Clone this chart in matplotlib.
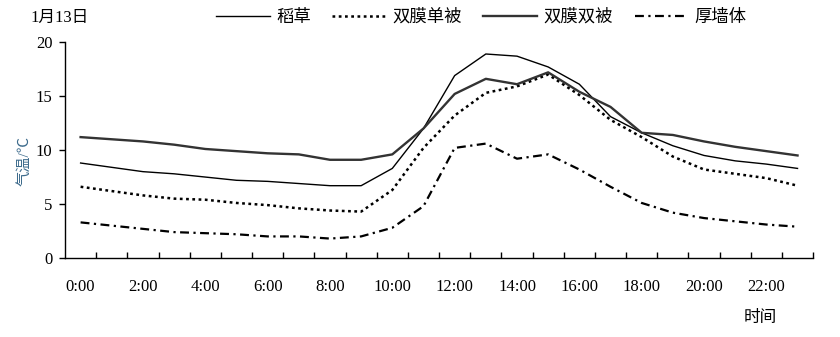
import matplotlib
matplotlib.use('Agg')
import matplotlib.pyplot as plt
import numpy as np

plt.rcParams['font.family'] = ['Liberation Serif', 'Noto Sans CJK SC']

# hourly greenhouse air temperature, 13 Jan
hours = ['%d:00' % h for h in range(24)]
daocao = [8.8, 8.4, 8.0, 7.8, 7.5, 7.2, 7.1, 6.9, 6.7, 6.7, 8.3, 12.0,
          16.9, 18.9, 18.7, 17.7, 16.1, 13.1, 11.6, 10.4, 9.5, 9.0, 8.7, 8.3]
shuangmo_danbei = [6.6, 6.2, 5.8, 5.5, 5.4, 5.1, 4.9, 4.6, 4.4, 4.3, 6.3, 10.2,
                   13.2, 15.3, 15.9, 17.0, 15.1, 12.8, 11.2, 9.4, 8.2, 7.8, 7.4, 6.7]
shuangmo_shuangbei = [11.2, 11.0, 10.8, 10.5, 10.1, 9.9, 9.7, 9.6, 9.1, 9.1, 9.6, 12.0,
                      15.2, 16.6, 16.1, 17.2, 15.4, 14.0, 11.6, 11.4, 10.8, 10.3, 9.9, 9.5]
houqiangti = [3.3, 3.0, 2.7, 2.4, 2.3, 2.2, 2.0, 2.0, 1.8, 2.0, 2.8, 4.8,
              10.2, 10.6, 9.2, 9.6, 8.2, 6.6, 5.1, 4.2, 3.7, 3.4, 3.1, 2.9]
names = ['稻草', '双膜单被', '双膜双被', '厚墙体']

x = np.arange(len(hours))

fig = plt.figure(figsize=(8.4, 3.37), dpi=100)
ax = fig.add_axes([0.0774, 0.2344, 0.8906, 0.6406])

ax.plot(x, daocao, color='black', lw=1.0, label=names[0])
ax.plot(x, shuangmo_danbei, color='black', lw=1.8,
        linestyle=(0, (1.1, 1.4)), label=names[1])
ax.plot(x, shuangmo_shuangbei, color='#333333', lw=1.7, label=names[2])
ax.plot(x, houqiangti, color='black', lw=1.6,
        linestyle=(0, (4, 2, 1, 2)), label=names[3])

ax.set_xlim(-0.5, 23.5)
ax.set_ylim(0, 20)
ax.set_yticks([0, 5, 10, 15, 20])
ax.set_xticks(x[::2])
ax.set_xticklabels(hours[::2])
ax.set_xticks(np.arange(0.5, 24, 1), minor=True)
ax.tick_params(axis='x', which='major', length=0, pad=15, labelsize=12)
ax.tick_params(axis='x', which='minor', direction='in', length=4, width=1)
ax.tick_params(axis='y', direction='out', length=4, width=1, pad=5, labelsize=12)

for s in ['top', 'right']:
    ax.spines[s].set_visible(False)
for s in ['left', 'bottom']:
    ax.spines[s].set_linewidth(1.0)

ax.set_ylabel('气温/℃', color='#3d6b8c', fontsize=11)
ax.yaxis.set_label_coords(-0.045, 0.45)

fig.legend(loc='center', bbox_to_anchor=(0.573, 0.947), ncol=4, frameon=False,
           fontsize=12.5, handlelength=3.1, handletextpad=0.35, columnspacing=1.25)
fig.text(30 / 840, 0.947, '1月13日', fontsize=12, va='center', ha='left')
fig.text(0.905, 0.056, '时间', fontsize=12, va='center', ha='center')

fig.savefig('out.png', dpi=100)
